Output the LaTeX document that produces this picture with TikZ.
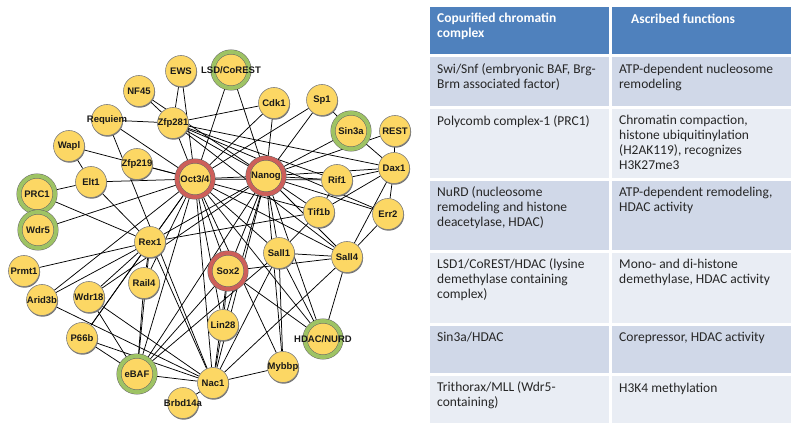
\documentclass[tikz,border=0pt]{standalone}
\usepackage{fontspec}
\setmainfont{Carlito}
\newfontfamily\genefont{Liberation Sans}
\usepackage{tikz}
\usetikzlibrary{shadows,backgrounds}

\definecolor{genefill}{RGB}{252,215,100}
\definecolor{ringgreen}{RGB}{158,195,100}
\definecolor{ringred}{RGB}{205,95,90}
\definecolor{headblue}{RGB}{79,129,189}
\definecolor{rowdark}{RGB}{208,216,232}
\definecolor{rowlight}{RGB}{233,237,244}

\tikzset{
	gene/.style={circle, minimum size=31pt, inner sep=0pt, fill=genefill, draw=black!50, line width=0.6pt,
		drop shadow={shadow xshift=0.6pt, shadow yshift=-1.2pt, fill=black!55, opacity=1}},
	genelabel/.style={font=\genefont\bfseries\fontsize{9.5}{10}\selectfont, text=black!90, inner sep=0pt},
	greencomplex/.style={gene, minimum size=36pt, draw=black!60, line width=0.5pt, double=ringgreen, double distance=4pt},
	redfactor/.style={gene, minimum size=36pt, draw=black!60, line width=0.5pt, double=ringred, double distance=4pt},
	link/.style={line width=0.75pt, black},
	headcell/.style={font=\bfseries\fontsize{13.5}{15}\selectfont, text=white, anchor=north west, align=left,
		inner sep=0pt, execute at begin node=\strut},
	bodycell/.style={font=\fontsize{13.5}{15}\selectfont, text=black!85, anchor=north west, align=left,
		inner sep=0pt, execute at begin node=\strut},
}

% #1 style, #2 name, #3 position, #4 text
\newcommand{\gene}[4][gene]{\node[#1, label={[genelabel]center:#4}] (#2) at (#3) {};}

\begin{document}
\begin{tikzpicture}[x=1pt,y=-1pt]

\useasboundingbox (0,0) rectangle (800,435);

\begin{scope}

\gene{ews}{181,71}{EWS}
\gene[greencomplex]{lsd}{231,70}{LSD/CoREST}
\gene{nf}{139,91}{NF45}
\gene{zfp281}{173,123}{Zfp281}
\gene{requiem}{107,120}{Requiem}
\gene{cdk}{274,103}{Cdk1}
\gene{sp}{322,100}{Sp1}
\gene[greencomplex]{sin}{351,131}{Sin3a}
\gene{rest}{395,131}{REST}
\gene{wapl}{69,146}{Wapl}
\gene{zfp219}{137,164}{Zfp219}
\gene[redfactor]{oct}{195,179}{Oct3/4}
\gene[redfactor]{nanog}{266,176}{Nanog}
\gene{rif}{337,180}{Rif1}
\gene{dax}{394,168}{Dax1}
\gene{elt}{91,182}{Elt1}
\gene[greencomplex]{prc}{37,194}{PRC1}
\gene[greencomplex]{wdr5}{38,230}{Wdr5}
\gene{rex}{150,242}{Rex1}
\gene{tif}{319,212}{Tif1b}
\gene{err}{388,214}{Err2}
\gene{sall1}{279,253}{Sall1}
\gene{sall4}{347,257}{Sall4}
\gene[redfactor]{sox}{228,271}{Sox2}
\gene{prmt}{24,271}{Prmt1}
\gene{rail}{144,283}{Rail4}
\gene{arid}{42,300}{Arid3b}
\gene{wdr18}{89,297}{Wdr18}
\gene{lin}{223,325}{Lin28}
\gene[greencomplex]{hdac}{323,339}{HDAC/NURD}
\gene{p66}{82,338}{P66b}
\gene{mybbp}{283,367}{Mybbp}
\gene[greencomplex]{ebaf}{137,374}{eBAF}
\gene{nac}{213,383}{Nac1}
\gene{brbd}{183,403}{Brbd14a}

\begin{scope}[on background layer]
\foreach \a/\b in {oct/ews, oct/zfp281, oct/requiem, oct/wapl, oct/zfp219, oct/elt, oct/wdr5, oct/rex,
	oct/nanog, oct/lsd, oct/cdk, oct/sp, oct/sall1, oct/sall4, oct/sox, oct/lin, oct/nac, oct/ebaf,
	oct/hdac, oct/rail, oct/arid, oct/tif, oct/rif, oct/mybbp, oct/p66}{
	\draw[link] (\a) -- (\b);
}
\foreach \a/\b in {nanog/zfp281, nanog/nf, nanog/lsd, nanog/cdk, nanog/sp, nanog/sin, nanog/rest,
	nanog/dax, nanog/rif, nanog/err, nanog/tif, nanog/sall1, nanog/sall4, nanog/sox, nanog/lin,
	nanog/nac, nanog/ebaf, nanog/hdac, nanog/rex, nanog/mybbp, nanog/wdr18}{
	\draw[link] (\a) -- (\b);
}
\foreach \a/\b in {zfp281/ews, zfp281/nf, zfp281/requiem, zfp281/cdk, zfp281/rif, zfp281/sall4,
	zfp281/err, zfp281/dax, requiem/nac, wapl/elt, elt/prc, elt/rex, prc/rex,
	rex/prmt, rex/arid, rex/p66, rex/rail, rex/ebaf, rex/nac, rex/tif, rex/wdr18,
	sin/sp, sin/dax, rest/dax, dax/rif, dax/tif, dax/err, dax/sall4, tif/rif, tif/sall1,
	sall1/sall4, sall1/hdac, sall1/mybbp, sall1/nac, sall4/sox, sall4/hdac, sall4/nac, sall4/err,
	sox/lin, sox/nac, sox/hdac, lin/nac, nac/mybbp, nac/ebaf, nac/brbd, nac/arid, nac/wdr18,
	nac/p66, ebaf/rail, ebaf/p66, ebaf/wdr18, ebaf/sox, ebaf/sall1}{
	\draw[link] (\a) -- (\b);
}
\end{scope}

\end{scope}


\begin{scope}

\fill[headblue] (430,7) rectangle (609,54);
\fill[headblue] (612,7) rectangle (791,54);

\foreach \ya/\yb/\rowfill in {57/106/rowdark, 109/178/rowlight, 181/250/rowdark,
	253/323/rowlight, 326/373/rowdark, 376/423/rowlight}{
	\fill[\rowfill] (430,\ya) rectangle (609,\yb);
	\fill[\rowfill] (612,\ya) rectangle (791,\yb);
}

\node[headcell] (hcomplex) at (437,12.5) {Copurified chromatin\\complex};
\node[headcell] (hfunction) at (631,12.5) {Ascribed functions};

\node[bodycell] (swi) at (437,63.5) {Swi/Snf (embryonic BAF, Brg-\\Brm associated factor)};
\node[bodycell] (swifn) at (619,63.5) {ATP-dependent nucleosome\\remodeling};
\node[bodycell] (poly) at (437,114.5) {Polycomb complex-1 (PRC1)};
\node[bodycell] (polyfn) at (619,114.5) {Chromatin compaction,\\histone ubiquitinylation\\(H2AK119), recognizes\\H3K27me3};
\node[bodycell] (nurd) at (437,186.5) {NuRD (nucleosome\\remodeling and histone\\deacetylase, HDAC)};
\node[bodycell] (nurdfn) at (619,186.5) {ATP-dependent remodeling,\\HDAC activity};
\node[bodycell] (lsdrow) at (437,258.5) {LSD1/CoREST/HDAC (lysine\\demethylase containing\\complex)};
\node[bodycell] (lsdfn) at (619,258.5) {Mono- and di-histone\\demethylase, HDAC activity};
\node[bodycell] (sinrow) at (437,330.5) {Sin3a/HDAC};
\node[bodycell] (sinfn) at (619,330.5) {Corepressor, HDAC activity};
\node[bodycell] (mll) at (437,381.5) {Trithorax/MLL (Wdr5-\\containing)};
\node[bodycell] (mllfn) at (619,381.5) {H3K4 methylation};

\end{scope}

\end{tikzpicture}
\end{document}
